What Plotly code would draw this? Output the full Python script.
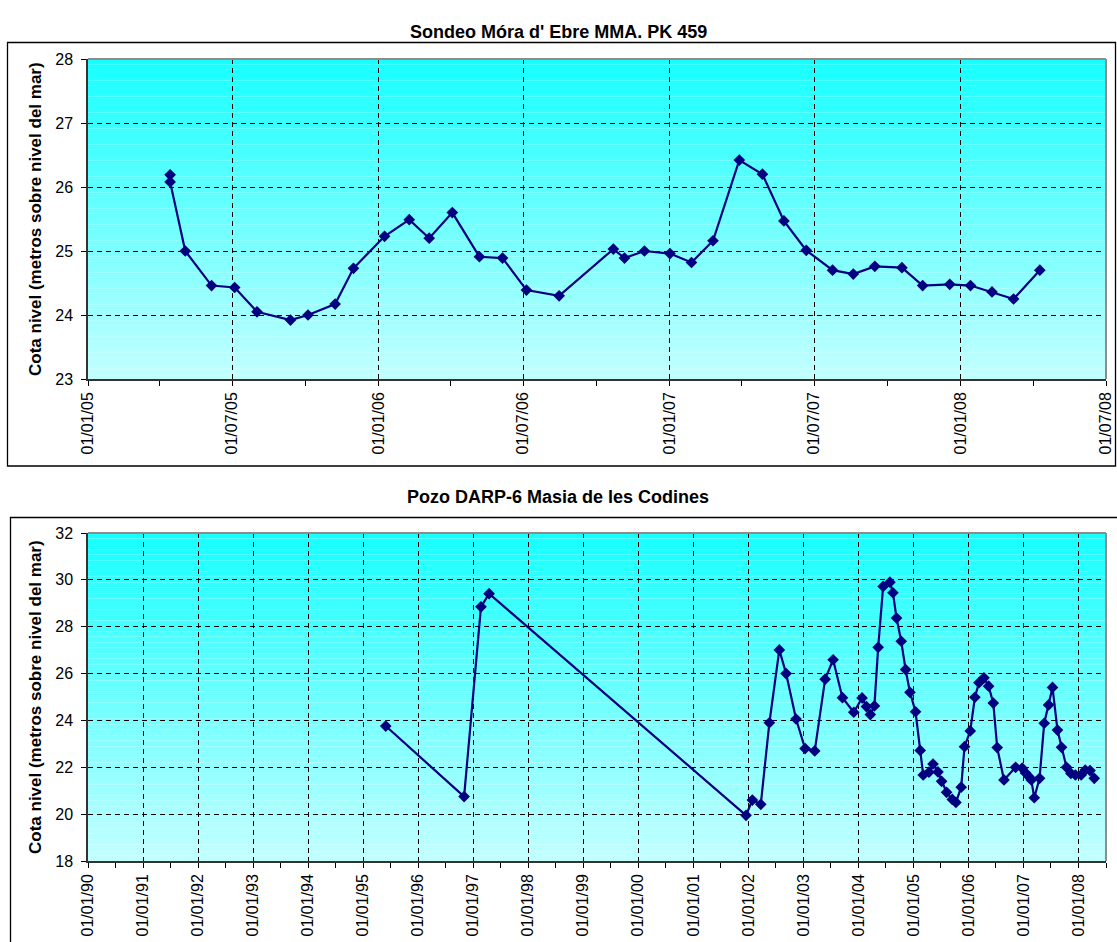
import plotly.graph_objects as go

top_title = "Sondeo Móra d' Ebre MMA. PK 459"
bottom_title = "Pozo DARP-6 Masia de les Codines"
y_title = "Cota nivel (metros sobre nivel del mar)"

# Sondeo Móra d'Ebre (2005-2008)
top_dates = ["2005-04-14", "2005-04-14", "2005-05-03", "2005-06-05", "2005-07-04",
             "2005-08-01", "2005-09-12", "2005-10-04", "2005-11-07", "2005-11-30",
             "2006-01-08", "2006-02-08", "2006-03-05", "2006-04-03", "2006-05-07",
             "2006-06-05", "2006-07-05", "2006-08-15", "2006-10-22", "2006-11-05",
             "2006-11-30", "2007-01-01", "2007-01-28", "2007-02-24", "2007-03-29",
             "2007-04-27", "2007-05-24", "2007-06-21", "2007-07-24", "2007-08-19",
             "2007-09-15", "2007-10-19", "2007-11-14", "2007-12-18", "2008-01-13",
             "2008-02-09", "2008-03-07", "2008-04-09"]
top_levels = [26.19, 26.08, 25.00, 24.46, 24.43,
              24.05, 23.92, 24.00, 24.17, 24.73,
              25.23, 25.49, 25.20, 25.60, 24.91,
              24.89, 24.39, 24.30, 25.03, 24.89,
              25.00, 24.96, 24.82, 25.16, 26.42,
              26.20, 25.47, 25.01, 24.70, 24.64,
              24.76, 24.74, 24.46, 24.48, 24.46,
              24.36, 24.25, 24.70]

# Pozo DARP-6 (1990-2008)
bottom_dates = ["1995-05-31", "1996-11-01", "1997-02-21", "1997-04-16", "2001-12-16",
                "2002-01-27", "2002-03-24", "2002-05-20", "2002-07-25", "2002-09-08",
                "2002-11-13", "2003-01-12", "2003-03-17", "2003-05-25", "2003-07-17",
                "2003-09-17", "2003-12-01", "2004-01-25", "2004-02-23", "2004-03-20",
                "2004-04-16", "2004-05-11", "2004-06-13", "2004-07-28", "2004-08-17",
                "2004-09-10", "2004-10-11", "2004-11-09", "2004-12-08", "2005-01-14",
                "2005-02-14", "2005-03-06", "2005-04-13", "2005-05-10", "2005-06-12",
                "2005-07-06", "2005-08-08", "2005-09-15", "2005-10-09", "2005-11-13",
                "2005-12-05", "2006-01-12", "2006-02-12", "2006-03-11", "2006-04-13",
                "2006-05-14", "2006-06-14", "2006-07-10", "2006-08-24", "2006-11-09",
                "2006-12-23", "2007-01-14", "2007-02-06", "2007-02-21", "2007-03-13",
                "2007-04-17", "2007-05-18", "2007-06-16", "2007-07-12", "2007-08-14",
                "2007-09-10", "2007-10-13", "2007-11-11", "2007-12-11", "2008-01-18",
                "2008-02-14", "2008-03-17", "2008-04-14"]
bottom_levels = [23.76, 20.75, 28.85, 29.41, 19.95,
                 20.60, 20.42, 23.90, 27.01, 26.00,
                 24.06, 22.80, 22.70, 25.76, 26.59,
                 24.97, 24.35, 24.96, 24.59, 24.25,
                 24.62, 27.12, 29.72, 29.90, 29.45,
                 28.37, 27.38, 26.17, 25.20, 24.37,
                 22.72, 21.67, 21.79, 22.14, 21.80,
                 21.40, 20.93, 20.63, 20.50, 21.15,
                 22.88, 23.55, 24.99, 25.61, 25.82,
                 25.46, 24.74, 22.84, 21.46, 22.00,
                 21.96, 21.76, 21.60, 21.46, 20.70,
                 21.53, 23.88, 24.66, 25.41, 23.59,
                 22.85, 22.00, 21.74, 21.67, 21.67,
                 21.88, 21.86, 21.53]

W, H = 1117, 942
L, R, T, B = 88, 11, 59, 81
pw = W - L - R
ph = H - T - B


def px(x):
    return (x - L) / pw


def py(y):
    return (H - B - y) / ph


navy = "#000080"
font = "Arial, Liberation Sans, sans-serif"

fig = go.Figure()
for dates, levels, xa, ya in [(top_dates, top_levels, "x", "y"),
                              (bottom_dates, bottom_levels, "x2", "y2")]:
    fig.add_trace(go.Scatter(x=dates, y=levels, xaxis=xa, yaxis=ya,
                             mode="lines+markers",
                             line=dict(color=navy, width=2.2),
                             marker=dict(symbol="diamond", size=9, color=navy),
                             showlegend=False))

shapes = []
# gradient background of each plot area (cyan at top, pale at bottom)
n = 60
for xd, yd in [("x domain", "y domain"), ("x2 domain", "y2 domain")]:
    for i in range(n):
        t = (i + 0.5) / n
        r = int(196 - (196 - 22) * t)
        shapes.append(dict(type="rect", xref=xd, yref=yd, x0=0, x1=1,
                           y0=i / n, y1=(i + 1) / n, layer="below",
                           fillcolor="rgb(%d,255,255)" % r, line=dict(width=0)))
    # grey plot-area border on top and right
    shapes.append(dict(type="line", xref=xd, yref=yd, x0=0, x1=1, y0=1, y1=1,
                       layer="above", line=dict(color="#8c8c8c", width=2)))
    shapes.append(dict(type="line", xref=xd, yref=yd, x0=1, x1=1, y0=0, y1=1,
                       layer="above", line=dict(color="#8c8c8c", width=2)))

# outer chart frames
shapes.append(dict(type="rect", xref="paper", yref="paper",
                   x0=px(7.5), x1=px(1115.5), y0=py(466), y1=py(42.5),
                   line=dict(color="black", width=1.3)))
shapes.append(dict(type="rect", xref="paper", yref="paper",
                   x0=px(10.5), x1=px(1125), y0=py(960), y1=py(517.5),
                   line=dict(color="black", width=1.3)))

common_x = dict(type="date", tickformat="%d/%m/%y", tickangle=-90,
                ticks="outside", ticklen=5, tickcolor="black", tickwidth=1,
                showgrid=True, gridcolor="black", gridwidth=1, griddash="5px,4px",
                showline=True, linecolor="#333333", linewidth=1.5,
                zeroline=False, automargin=False,
                tickfont=dict(family=font, size=16, color="black"))
common_y = dict(ticks="outside", ticklen=5, tickcolor="black", tickwidth=1,
                showgrid=True, gridcolor="black", gridwidth=1, griddash="5px,4px",
                showline=True, linecolor="#333333", linewidth=1.5,
                zeroline=False, automargin=False, ticklabelstandoff=5,
                tickfont=dict(family=font, size=16, color="black"))

fig.update_layout(
    width=W, height=H,
    margin=dict(l=L, r=R, t=T, b=B),
    paper_bgcolor="white", plot_bgcolor="rgba(0,0,0,0)",
    shapes=shapes,
    xaxis=dict(common_x, domain=[0, 1], anchor="y",
               range=["2005-01-01", "2008-07-01"], tick0="2005-01-01", dtick="M6",
               minor=dict(ticks="outside", dtick="M3", ticklen=5, tickcolor="black",
                          showgrid=False)),
    yaxis=dict(common_y, domain=[py(379), py(59)], anchor="x",
               range=[23, 28], dtick=1),
    xaxis2=dict(common_x, domain=[0, 1], anchor="y2",
                range=["1990-01-01", "2008-07-01"], tick0="1990-01-01", dtick="M12",
                minor=dict(ticks="outside", dtick="M6", ticklen=5, tickcolor="black",
                           showgrid=False)),
    yaxis2=dict(common_y, domain=[py(861), py(533)], anchor="x2",
                range=[18, 32], dtick=2),
    annotations=[
        dict(text="<b>%s</b>" % top_title, xref="paper", yref="paper",
             x=px(558), y=py(20), showarrow=False,
             font=dict(family=font, size=18, color="black")),
        dict(text="<b>%s</b>" % bottom_title, xref="paper", yref="paper",
             x=px(558), y=py(497), showarrow=False,
             font=dict(family=font, size=18, color="black")),
        dict(text="<b>%s</b>" % y_title, xref="paper", yref="paper",
             x=px(35), y=py(219), textangle=-90, showarrow=False,
             xanchor="center", yanchor="middle",
             font=dict(family=font, size=17, color="black")),
        dict(text="<b>%s</b>" % y_title, xref="paper", yref="paper",
             x=px(35), y=py(697), textangle=-90, showarrow=False,
             xanchor="center", yanchor="middle",
             font=dict(family=font, size=17, color="black")),
    ],
)

# the page's default body margin would shift the whole figure by 8 px
fig.write_html("out.html", config={"displayModeBar": False},
               post_script="document.body.style.margin='0px';")
